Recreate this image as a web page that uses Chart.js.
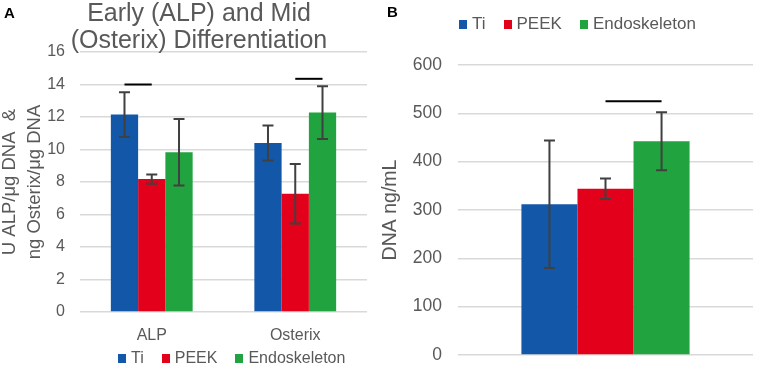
<!DOCTYPE html>
<html lang="en">
<head>
    <meta charset="UTF-8">
    <title>Early and Mid Differentiation / DNA</title>
    <script src="https://cdn.jsdelivr.net/npm/chart.js"></script>
    <style>
        body { margin: 0; background: #fff; font-family: "Liberation Sans", Arial, sans-serif; }
        .panel { position: absolute; top: 0; height: 368px; }
        .letter { position: absolute; font-weight: bold; font-size: 15px; line-height: 15px; color: #000; }
        .title { position: absolute; left: 0; top: -1px; width: 398px; text-align: center;
                 font-size: 25px; line-height: 27px; color: #595959; }
        .legend { position: absolute; display: flex; align-items: center; height: 20px; color: #595959; white-space: nowrap; }
        .legend .item { display: flex; align-items: center; }
        .legend .box { display: inline-block; width: 8px; height: 9px; margin-right: 5px; }
    </style>
</head>
<body>
    <div class="panel" style="left:0;width:380px;"><canvas id="chartA"></canvas></div>
    <div class="panel" style="left:380px;width:378px;"><canvas id="chartB"></canvas></div>

    <div class="letter" style="left:4px;top:5px;">A</div>
    <div class="letter" style="left:387px;top:4px;">B</div>
    <div class="title">Early (ALP) and Mid<br>(Osterix) Differentiation</div>

    <div class="legend" id="legendA" style="left:118px;top:348px;font-size:16px;"></div>
    <div class="legend" id="legendB" style="left:459px;top:14px;font-size:17px;"></div>

    <script>
        // series names + colours
        const seriesNames = ['Ti', 'PEEK', 'Endoskeleton'];
        const seriesColors = ['#1357a8', '#e3001b', '#21a33f'];

        // panel A: ALP / Osterix
        const categoriesA = ['ALP', 'Osterix'];
        const tiA = [12.15, 10.4];
        const peekA = [8.18, 7.28];
        const endoA = [9.83, 12.27];
        const tiErrA = [1.38, 1.07];
        const peekErrA = [0.28, 1.83];
        const endoErrA = [2.05, 1.62];
        const ticksA = [0, 2, 4, 6, 8, 10, 12, 14, 16];
        // [category, from series, to series, y]
        const sigA = [[0, 0, 1, 14.0], [1, 1, 2, 14.35]];

        // panel B: DNA
        const categoriesB = [''];
        const tiB = [312];
        const peekB = [344];
        const endoB = [442];
        const tiErrB = [132];
        const peekErrB = [21];
        const endoErrB = [60];
        const ticksB = [0, 100, 200, 300, 400, 500, 600];
        const sigB = [[0, 1, 2, 525]];

        Chart.defaults.font.family = '"Liberation Sans", Arial, sans-serif';
        Chart.defaults.color = '#595959';

        // error bars + significance lines
        const errorBarPlugin = {
            id: 'errorBars',
            afterDatasetsDraw(chart) {
                const ctx = chart.ctx;
                const y = chart.scales.y;
                ctx.save();
                ctx.strokeStyle = '#404040';
                ctx.lineWidth = 2;
                chart.data.datasets.forEach((ds, i) => {
                    const meta = chart.getDatasetMeta(i);
                    meta.data.forEach((bar, j) => {
                        const v = ds.data[j], e = ds.errors[j];
                        const yt = y.getPixelForValue(v + e);
                        const yb = y.getPixelForValue(v - e);
                        ctx.beginPath();
                        ctx.moveTo(bar.x, yt); ctx.lineTo(bar.x, yb);
                        ctx.moveTo(bar.x - 5.5, yt); ctx.lineTo(bar.x + 5.5, yt);
                        ctx.moveTo(bar.x - 5.5, yb); ctx.lineTo(bar.x + 5.5, yb);
                        ctx.stroke();
                    });
                });
                ctx.strokeStyle = '#000';
                (chart.options.plugins.errorBars.sig || []).forEach(s => {
                    const x1 = chart.getDatasetMeta(s[1]).data[s[0]].x;
                    const x2 = chart.getDatasetMeta(s[2]).data[s[0]].x;
                    const yy = y.getPixelForValue(s[3]);
                    ctx.beginPath();
                    ctx.moveTo(x1, yy); ctx.lineTo(x2, yy);
                    ctx.stroke();
                });
                ctx.restore();
            }
        };

        function makeDatasets(values, errors) {
            return seriesNames.map((name, i) => ({
                label: name,
                data: values[i],
                errors: errors[i],
                backgroundColor: seriesColors[i],
                categoryPercentage: 0.57,
                barPercentage: 1.0
            }));
        }

        function buildLegend(id) {
            const el = document.getElementById(id);
            seriesNames.forEach((name, i) => {
                const item = document.createElement('span');
                item.className = 'item';
                item.style.marginRight = i < seriesNames.length - 1 ? '18px' : '0';
                item.innerHTML = '<span class="box" style="background:' + seriesColors[i] + '"></span>' + name;
                el.appendChild(item);
            });
        }
        buildLegend('legendA');
        buildLegend('legendB');

        // fixed axis width, no extra label overflow padding
        function fixWidth(w) {
            return (axis) => {
                axis.width = w;
                axis.paddingTop = 0;
                axis.paddingBottom = 0;
            };
        }

        new Chart(document.getElementById('chartA'), {
            type: 'bar',
            data: {
                labels: categoriesA,
                datasets: makeDatasets([tiA, peekA, endoA], [tiErrA, peekErrA, endoErrA])
            },
            options: {
                responsive: true,
                maintainAspectRatio: false,
                animation: false,
                layout: { padding: { top: 52, right: 13, bottom: 26, left: 0 } },
                plugins: {
                    legend: { display: false },
                    tooltip: { enabled: false },
                    errorBars: { sig: sigA }
                },
                scales: {
                    x: {
                        afterFit: (axis) => { axis.height = 30; },
                        grid: { display: false, drawTicks: false },
                        border: { display: false },
                        ticks: { padding: 14, font: { size: 16 } }
                    },
                    y: {
                        min: 0,
                        max: 16,
                        afterFit: fixWidth(80),
                        afterBuildTicks: (axis) => { axis.ticks = ticksA.map(v => ({ value: v })); },
                        grid: { color: '#d9d9d9', lineWidth: 1.5, drawTicks: false },
                        border: { display: false },
                        ticks: { padding: 15, font: { size: 16 } },
                        title: {
                            display: true,
                            text: ['U ALP/\u03bcg DNA  &', 'ng Osterix/\u03bcg DNA'],
                            font: { size: 18.5, lineHeight: 1.35 },
                            padding: { top: -3, bottom: 0 }
                        }
                    }
                }
            },
            plugins: [errorBarPlugin]
        });

        new Chart(document.getElementById('chartB'), {
            type: 'bar',
            data: {
                labels: categoriesB,
                datasets: makeDatasets([tiB, peekB, endoB], [tiErrB, peekErrB, endoErrB])
            },
            options: {
                responsive: true,
                maintainAspectRatio: false,
                animation: false,
                layout: { padding: { top: 65, right: 5, bottom: 0, left: 0 } },
                plugins: {
                    legend: { display: false },
                    tooltip: { enabled: false },
                    errorBars: { sig: sigB }
                },
                scales: {
                    x: {
                        afterFit: (axis) => { axis.height = 13; },
                        grid: { display: false, drawTicks: false },
                        border: { display: false },
                        ticks: { display: false }
                    },
                    y: {
                        min: 0,
                        max: 600,
                        afterFit: fixWidth(78),
                        afterBuildTicks: (axis) => { axis.ticks = ticksB.map(v => ({ value: v })); },
                        grid: { color: '#d9d9d9', lineWidth: 1.5, drawTicks: false },
                        border: { display: false },
                        ticks: { padding: 16, font: { size: 17.5 } },
                        title: {
                            display: true,
                            text: 'DNA ng/mL',
                            font: { size: 19.5, lineHeight: 1 },
                            padding: { top: 0.5, bottom: 0 }
                        }
                    }
                }
            },
            plugins: [errorBarPlugin]
        });
    </script>
</body>
</html>
